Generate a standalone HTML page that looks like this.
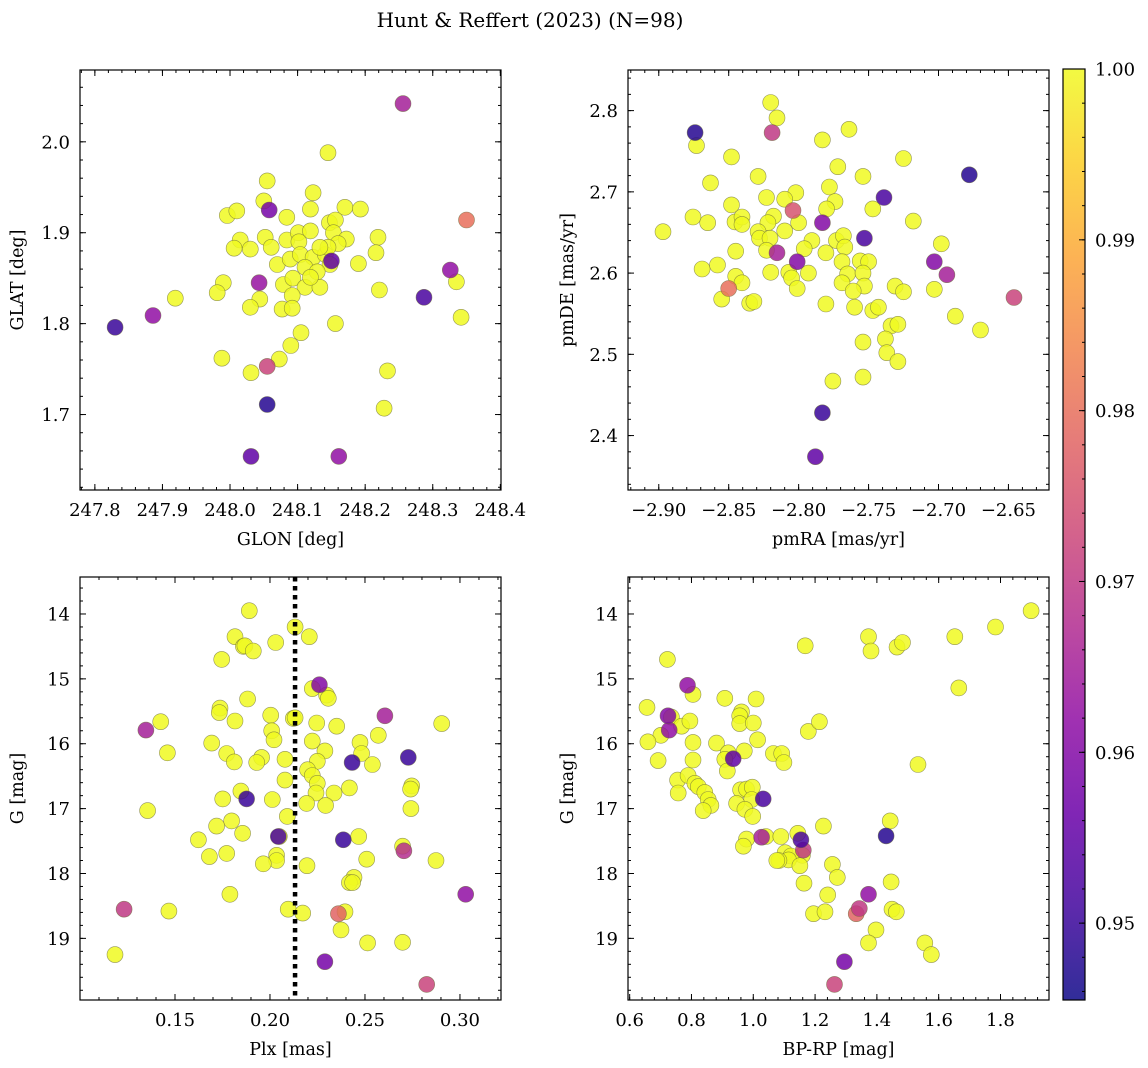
<!DOCTYPE html>
<html><head><meta charset="utf-8">
<style>
html,body{margin:0;padding:0;background:#fff;}
svg{display:block;font-family:"DejaVu Serif","Liberation Serif",serif;}
</style></head>
<body>
<svg id="fig" width="1148" height="1068" viewBox="0 0 1148 1068" xmlns="http://www.w3.org/2000/svg">
<text x="530" y="27" font-size="20" text-anchor="middle">Hunt &amp; Reffert (2023) (N=98)</text>
</svg>
<script>
// ---- Panel 1: GLON / GLAT ----
const glon1 = [248.256,248.350,248.058,248.043,248.150,248.326,248.287,247.830,247.886,248.055,248.055,248.031,248.161,
248.145,248.055,248.123,248.050,247.996,248.010,248.084,248.119,248.170,248.193,248.147,248.156,248.219,248.015,248.006,248.030,248.052,248.061,248.084,248.101,248.119,248.102,248.153,248.172,248.160,248.216,248.070,248.089,248.104,248.123,248.141,248.145,248.133,248.148,248.111,248.129,248.079,248.093,248.111,248.133,248.119,248.190,247.990,247.981,248.044,248.030,248.092,248.077,248.092,248.221,248.156,248.105,248.090,248.073,247.988,248.031,248.233,247.919,248.228,248.335,248.342];
const glat1 = [2.042,1.914,1.925,1.845,1.869,1.859,1.829,1.796,1.809,1.753,1.711,1.654,1.654,
1.988,1.957,1.944,1.935,1.919,1.924,1.917,1.926,1.928,1.926,1.911,1.914,1.895,1.892,1.883,1.882,1.895,1.884,1.892,1.900,1.902,1.890,1.900,1.893,1.888,1.878,1.865,1.871,1.876,1.873,1.876,1.884,1.884,1.865,1.862,1.857,1.843,1.850,1.840,1.840,1.851,1.866,1.845,1.834,1.827,1.818,1.831,1.816,1.817,1.837,1.800,1.790,1.776,1.761,1.762,1.746,1.748,1.828,1.707,1.846,1.807];
const prob1 = [0.965,0.980,0.958,0.963,0.955,0.962,0.952,0.950,0.962,0.972,0.948,0.955,0.962];
// ---- Panel 2: pmRA / pmDE ----
const pmra2 = [-2.820,-2.8155,-2.819,-2.874,-2.873,-2.764,-2.783,-2.848,-2.725,-2.772,-2.863,-2.829,-2.754,-2.778,-2.802,-2.810,-2.823,-2.774,-2.739,-2.780,-2.747,-2.848,-2.804,-2.8755,-2.865,-2.8455,-2.8405,-2.8405,-2.818,-2.822,-2.810,-2.800,-2.783,-2.718,-2.829,-2.828,-2.8205,-2.823,-2.8155,-2.7905,-2.796,-2.773,-2.768,-2.767,-2.753,-2.7805,-2.845,-2.698,-2.703,-2.694,-2.869,-2.858,-2.820,-2.801,-2.807,-2.793,-2.769,-2.756,-2.750,-2.765,-2.754,-2.769,-2.753,-2.761,-2.845,-2.8405,-2.805,-2.801,-2.850,-2.855,-2.835,-2.832,-2.731,-2.725,-2.703,-2.7805,-2.760,-2.747,-2.743,-2.734,-2.729,-2.754,-2.738,-2.737,-2.729,-2.7755,-2.754,-2.897,-2.678,-2.688,-2.670,-2.646,-2.783,-2.788];
const pmde2 = [2.810,2.791,2.773,2.773,2.757,2.777,2.764,2.743,2.741,2.731,2.711,2.719,2.719,2.706,2.699,2.691,2.693,2.688,2.693,2.679,2.679,2.684,2.677,2.669,2.662,2.663,2.669,2.660,2.670,2.662,2.652,2.662,2.662,2.664,2.651,2.643,2.643,2.628,2.625,2.640,2.630,2.640,2.646,2.632,2.643,2.625,2.627,2.636,2.614,2.598,2.605,2.610,2.601,2.614,2.601,2.600,2.614,2.615,2.614,2.599,2.600,2.588,2.584,2.578,2.596,2.588,2.594,2.581,2.581,2.568,2.563,2.565,2.584,2.577,2.580,2.562,2.558,2.554,2.558,2.535,2.537,2.515,2.519,2.502,2.491,2.467,2.472,2.651,2.721,2.547,2.530,2.570,2.428,2.374];
const prob2 = [1,1,0.970,0.948,1,1,1,1,1,1,1,1,1,1,1,1,1,1,0.952,1,1,1,0.975,1,1,1,1,1,1,1,1,1,0.960,1,1,1,1,1,0.965,1,1,1,1,1,0.952,1,1,1,0.960,0.965,1,1,1,0.960,1,1,1,1,1,1,1,1,1,1,1,1,1,1,0.980,1,1,1,1,1,1,1,1,1,1,1,1,1,1,1,1,1,1,1,0.948,1,1,0.972,0.950,0.955];
// ---- Panel 3: Plx / G ----
const plx3 = [0.1891,0.2132,0.2207,0.1816,0.1860,0.1868,0.1912,0.2030,0.1746,0.2260,0.2223,0.2298,0.2307,0.1882,0.1737,0.1733,0.2605,0.1425,0.1347,0.1816,0.2004,0.2123,0.2132,0.2246,0.2351,0.2904,0.2009,0.2021,0.1693,0.2223,0.2570,0.2474,0.2289,0.2482,0.1460,0.1772,0.1812,0.1956,0.1930,0.2079,0.2249,0.2432,0.2539,0.2728,0.2198,0.2223,0.2249,0.2079,0.2242,0.2337,0.2418,0.2746,0.2740,0.1847,0.1877,0.1751,0.2012,0.2193,0.2293,0.2742,0.1356,0.2091,0.1798,0.1719,0.1856,0.1623,0.2044,0.2049,0.2386,0.2467,0.2705,0.2698,0.1681,0.1772,0.2035,0.2035,0.1965,0.2195,0.2509,0.2874,0.2442,0.2418,0.2435,0.1789,0.3030,0.1232,0.1468,0.2096,0.2172,0.2360,0.2395,0.2374,0.2514,0.2698,0.1184,0.2289,0.2825];
const gmag3 = [13.95,14.20,14.35,14.35,14.50,14.49,14.57,14.44,14.70,15.09,15.15,15.25,15.30,15.31,15.45,15.52,15.57,15.66,15.79,15.65,15.56,15.61,15.60,15.68,15.73,15.69,15.80,15.94,15.99,15.96,15.87,15.98,16.11,16.15,16.14,16.15,16.28,16.21,16.29,16.24,16.27,16.29,16.32,16.21,16.40,16.49,16.61,16.56,16.76,16.76,16.68,16.65,16.70,16.73,16.85,16.85,16.86,16.92,16.95,17.00,17.03,17.12,17.19,17.27,17.38,17.48,17.43,17.43,17.48,17.43,17.65,17.58,17.74,17.69,17.72,17.80,17.85,17.88,17.78,17.80,18.06,18.14,18.14,18.32,18.32,18.55,18.58,18.55,18.61,18.62,18.59,18.87,19.07,19.06,19.25,19.36,19.71];
const prob3 = [1,1,1,1,1,1,1,1,1,0.960,1,1,1,1,1,1,0.965,1,0.965,1,1,1,1,1,1,1,1,1,1,1,1,1,1,1,1,1,1,1,1,1,1,0.950,1,0.950,1,1,1,1,1,1,1,1,1,1,0.950,1,1,1,1,1,1,1,1,1,1,1,0.952,1,0.950,1,0.968,1,1,1,1,1,1,1,1,1,1,1,1,1,0.962,0.970,1,1,1,0.978,1,1,1,1,1,0.958,0.972];
// ---- Panel 4: BP-RP / G ----
const bprp4 = [1.899,1.784,1.652,1.373,1.381,1.465,1.483,1.168,1.665,0.722,0.787,0.805,0.908,1.009,0.656,0.724,0.735,0.768,0.795,0.728,0.701,0.659,0.962,0.956,0.956,1.000,1.014,0.881,0.805,0.805,0.692,1.178,1.214,0.919,0.935,0.908,0.916,0.971,1.065,1.092,1.099,1.533,0.755,0.789,0.811,0.822,0.757,0.843,0.854,0.863,0.838,0.959,0.978,0.997,0.995,1.032,0.946,0.973,0.998,1.227,1.443,1.430,1.027,1.041,1.089,0.978,0.968,1.144,1.154,1.162,1.159,1.103,1.122,1.114,1.083,1.076,1.151,1.256,1.272,1.164,1.446,1.241,1.373,1.343,1.333,1.195,1.232,1.449,1.463,1.397,1.373,1.555,1.576,1.295,1.263];
const gmag4 = [13.95,14.20,14.35,14.35,14.57,14.51,14.44,14.49,15.14,14.70,15.10,15.24,15.30,15.31,15.44,15.57,15.59,15.73,15.65,15.79,15.87,15.97,15.51,15.57,15.69,15.68,15.94,15.99,15.98,16.25,16.26,15.81,15.66,16.14,16.23,16.24,16.42,16.11,16.15,16.15,16.29,16.32,16.56,16.49,16.61,16.66,16.76,16.75,16.86,16.95,17.03,16.71,16.70,16.67,16.86,16.85,16.92,17.01,17.12,17.27,17.19,17.42,17.44,17.43,17.43,17.47,17.58,17.38,17.48,17.64,17.72,17.68,17.73,17.79,17.80,17.80,17.88,17.86,18.06,18.15,18.13,18.33,18.32,18.54,18.62,18.62,18.59,18.55,18.59,18.87,19.07,19.07,19.25,19.36,19.71];
const prob4 = [1,1,1,1,1,1,1,1,1,1,0.962,1,1,1,1,0.960,1,1,1,0.962,1,1,1,1,1,1,1,1,1,1,1,1,1,1,0.955,1,1,1,1,1,1,1,1,1,1,1,1,1,1,1,1,1,1,1,1,0.952,1,1,1,1,1,0.948,0.965,1,1,1,1,1,0.952,0.970,1,1,1,1,1,1,1,1,1,1,1,1,0.962,0.970,0.978,1,1,1,1,1,1,1,1,0.958,0.972];
const cbTicks = [0.95,0.96,0.97,0.98,0.99,1.00];
const plxLine = [0.2132];

const NS = "http://www.w3.org/2000/svg";
const svg = document.getElementById('fig');
const CMIN = 0.9455, CMAX = 1.0;
const FS = 18;
const plasma = ["#0d0887","#41049d","#6a00a8","#8f0da4","#b12a90","#cc4778","#e16462","#f2844b","#fca636","#fcce25","#f0f921"];
function hex(h){return [parseInt(h.slice(1,3),16),parseInt(h.slice(3,5),16),parseInt(h.slice(5,7),16)];}
function cmap(v){
  let t=(v-CMIN)/(CMAX-CMIN); t=Math.max(0,Math.min(1,t));
  const f=t*10, i=Math.min(9,Math.floor(f)), r=f-i;
  const a=hex(plasma[i]), b=hex(plasma[i+1]);
  return 'rgb('+a.map((c,k)=>Math.round(c+(b[k]-c)*r)).join(',')+')';
}
function el(tag, attrs, parent){
  const e=document.createElementNS(NS,tag);
  for(const k in attrs) e.setAttribute(k,attrs[k]);
  (parent||svg).appendChild(e); return e;
}
function fmtNum(v,d){const s=Math.abs(v).toFixed(d); return (v<0?'\u2212':'')+s;}

function panel(cfg){
  const g=el('g',{});
  
  
  const sx=v=>cfg.x0+(v-cfg.xmin)/(cfg.xmax-cfg.xmin)*cfg.w;
  const sy=v=>cfg.y0+(cfg.ytop-v)/(cfg.ytop-cfg.ybot)*cfg.h;
  const pg=el('g',{},g);
  
  
  const order=cfg.xs.map((_,i)=>i).sort((a,b)=>(cfg.ps[b]??1)-(cfg.ps[a]??1));
  order.forEach(i=>{
    const p=cfg.ps[i]??1;
    const c=el('circle',{cx:sx(cfg.xs[i]).toFixed(1),cy:sy(cfg.ys[i]).toFixed(1),r:8,fill:cmap(p),'fill-opacity':0.85,stroke:'#6b6b3a','stroke-width':0.6,'stroke-opacity':0.7},pg);
    
    
  });
  if(cfg.vline){
    const l=el('line',{x1:sx(cfg.vline),x2:sx(cfg.vline),y1:cfg.y0,y2:cfg.y0+cfg.h,stroke:'#000','stroke-width':4.5,'stroke-dasharray':'4.5,4.5'},g);
    
    
  }
  const fr=el('rect',{x:cfg.x0,y:cfg.y0,width:cfg.w,height:cfg.h,fill:'none',stroke:'#000','stroke-width':1.2},g);
  
  
  const tk=el('g',{stroke:'#000','stroke-width':1},g);
  const eps=1e-9;
  for(let v=Math.ceil(Math.min(cfg.xmin,cfg.xmax)/cfg.xminor-eps)*cfg.xminor; v<=Math.max(cfg.xmin,cfg.xmax)+eps; v+=cfg.xminor){
    const x=sx(v); if(x<cfg.x0||x>cfg.x0+cfg.w) continue;
    el('line',{x1:x,x2:x,y1:cfg.y0+cfg.h,y2:cfg.y0+cfg.h-3},tk);
    el('line',{x1:x,x2:x,y1:cfg.y0,y2:cfg.y0+3},tk);
  }
  const ylo=Math.min(cfg.ytop,cfg.ybot), yhi=Math.max(cfg.ytop,cfg.ybot);
  for(let v=Math.ceil(ylo/cfg.yminor-eps)*cfg.yminor; v<=yhi+eps; v+=cfg.yminor){
    const y=sy(v);
    el('line',{x1:cfg.x0,x2:cfg.x0+3,y1:y,y2:y},tk);
    el('line',{x1:cfg.x0+cfg.w,x2:cfg.x0+cfg.w-3,y1:y,y2:y},tk);
  }
  cfg.xticks.forEach(v=>{
    const x=sx(v);
    el('line',{x1:x,x2:x,y1:cfg.y0+cfg.h,y2:cfg.y0+cfg.h-6},tk);
    el('line',{x1:x,x2:x,y1:cfg.y0,y2:cfg.y0+6},tk);
    const t=el('text',{x:x,y:cfg.y0+cfg.h+26,'font-size':FS,'text-anchor':'middle'},g);
    t.textContent=fmtNum(v,cfg.xdec);
    
    
  });
  cfg.yticks.forEach(v=>{
    const y=sy(v);
    el('line',{x1:cfg.x0,x2:cfg.x0+6,y1:y,y2:y},tk);
    el('line',{x1:cfg.x0+cfg.w,x2:cfg.x0+cfg.w-6,y1:y,y2:y},tk);
    const t=el('text',{x:cfg.x0-10,y:y+6.5,'font-size':FS,'text-anchor':'end'},g);
    t.textContent=fmtNum(v,cfg.ydec);
    
    
  });
  const xl=el('text',{x:cfg.x0+cfg.w/2,y:cfg.y0+cfg.h+55,'font-size':17.5,'text-anchor':'middle'},g);
  xl.textContent=cfg.xlabel;
  
  
  const yx=cfg.ylx, yy=cfg.y0+cfg.h/2;
  const yl=el('text',{x:yx,y:yy,'font-size':17.5,'text-anchor':'middle',transform:'rotate(-90 '+yx+' '+yy+')'},g);
  yl.textContent=cfg.ylabel;
  
  
}
function rng(a,b,s){const o=[];for(let v=a;v<=b+1e-9;v+=s)o.push(+v.toFixed(4));return o;}

panel({name:'glon-glat-panel',x0:80,y0:70,w:421,h:420,xmin:247.778,xmax:248.401,ytop:2.079,ybot:1.617,
  xticks:rng(247.8,248.4,0.1),yticks:rng(1.7,2.0,0.1),xminor:0.02,yminor:0.02,xdec:1,ydec:1,
  xs:glon1,ys:glat1,ps:prob1,xlabel:'GLON [deg]',ylabel:'GLAT [deg]',ylx:23});
panel({name:'proper-motion-panel',x0:628,y0:70,w:421,h:420,xmin:-2.922,xmax:-2.621,ytop:2.850,ybot:2.333,
  xticks:rng(-2.90,-2.65,0.05),yticks:rng(2.4,2.8,0.1),xminor:0.01,yminor:0.02,xdec:2,ydec:1,
  xs:pmra2,ys:pmde2,ps:prob2,xlabel:'pmRA [mas/yr]',ylabel:'pmDE [mas/yr]',ylx:573});
panel({name:'parallax-panel',x0:80,y0:577,w:421,h:423,xmin:0.10,xmax:0.3216,ytop:13.43,ybot:19.95,
  xticks:rng(0.15,0.30,0.05),yticks:rng(14,19,1),xminor:0.01,yminor:0.2,xdec:2,ydec:0,
  xs:plx3,ys:gmag3,ps:prob3,xlabel:'Plx [mas]',ylabel:'G [mag]',ylx:23,vline:plxLine[0]});
panel({name:'cmd-panel',x0:628,y0:577,w:421,h:423,xmin:0.5946,xmax:1.957,ytop:13.43,ybot:19.95,
  xticks:rng(0.6,1.8,0.2),yticks:rng(14,19,1),xminor:0.04,yminor:0.2,xdec:1,ydec:0,
  xs:bprp4,ys:gmag4,ps:prob4,xlabel:'BP-RP [mag]',ylabel:'G [mag]',ylx:573});

const cb=el('g',{});


const defs=el('defs',{},cb);
const lg=el('linearGradient',{id:'cbg',x1:0,y1:1,x2:0,y2:0},defs);
plasma.forEach((c,i)=>el('stop',{offset:(i/10),'stop-color':c,'stop-opacity':0.85},lg));
const CBX=1063,CBW=22,CBT=69,CBB=1000;
const cy=v=>CBB-(v-CMIN)/(CMAX-CMIN)*(CBB-CBT);
el('rect',{x:CBX,y:CBT,width:CBW,height:CBB-CBT,fill:'url(#cbg)',stroke:'#000','stroke-width':1.2},cb);
for(let v=0.946;v<=1.0001;v+=0.002){const y=cy(v);el('line',{x1:CBX+CBW,x2:CBX+CBW-3,y1:y,y2:y,stroke:'#000'},cb);}
cbTicks.forEach(v=>{
  const y=cy(v);
  el('line',{x1:CBX+CBW,x2:CBX+CBW-6,y1:y,y2:y,stroke:'#000'},cb);
  const t=el('text',{x:1095,y:y+6.5,'font-size':FS},cb);
  t.textContent=v.toFixed(2);
  
  
});
</script>
</body></html>
